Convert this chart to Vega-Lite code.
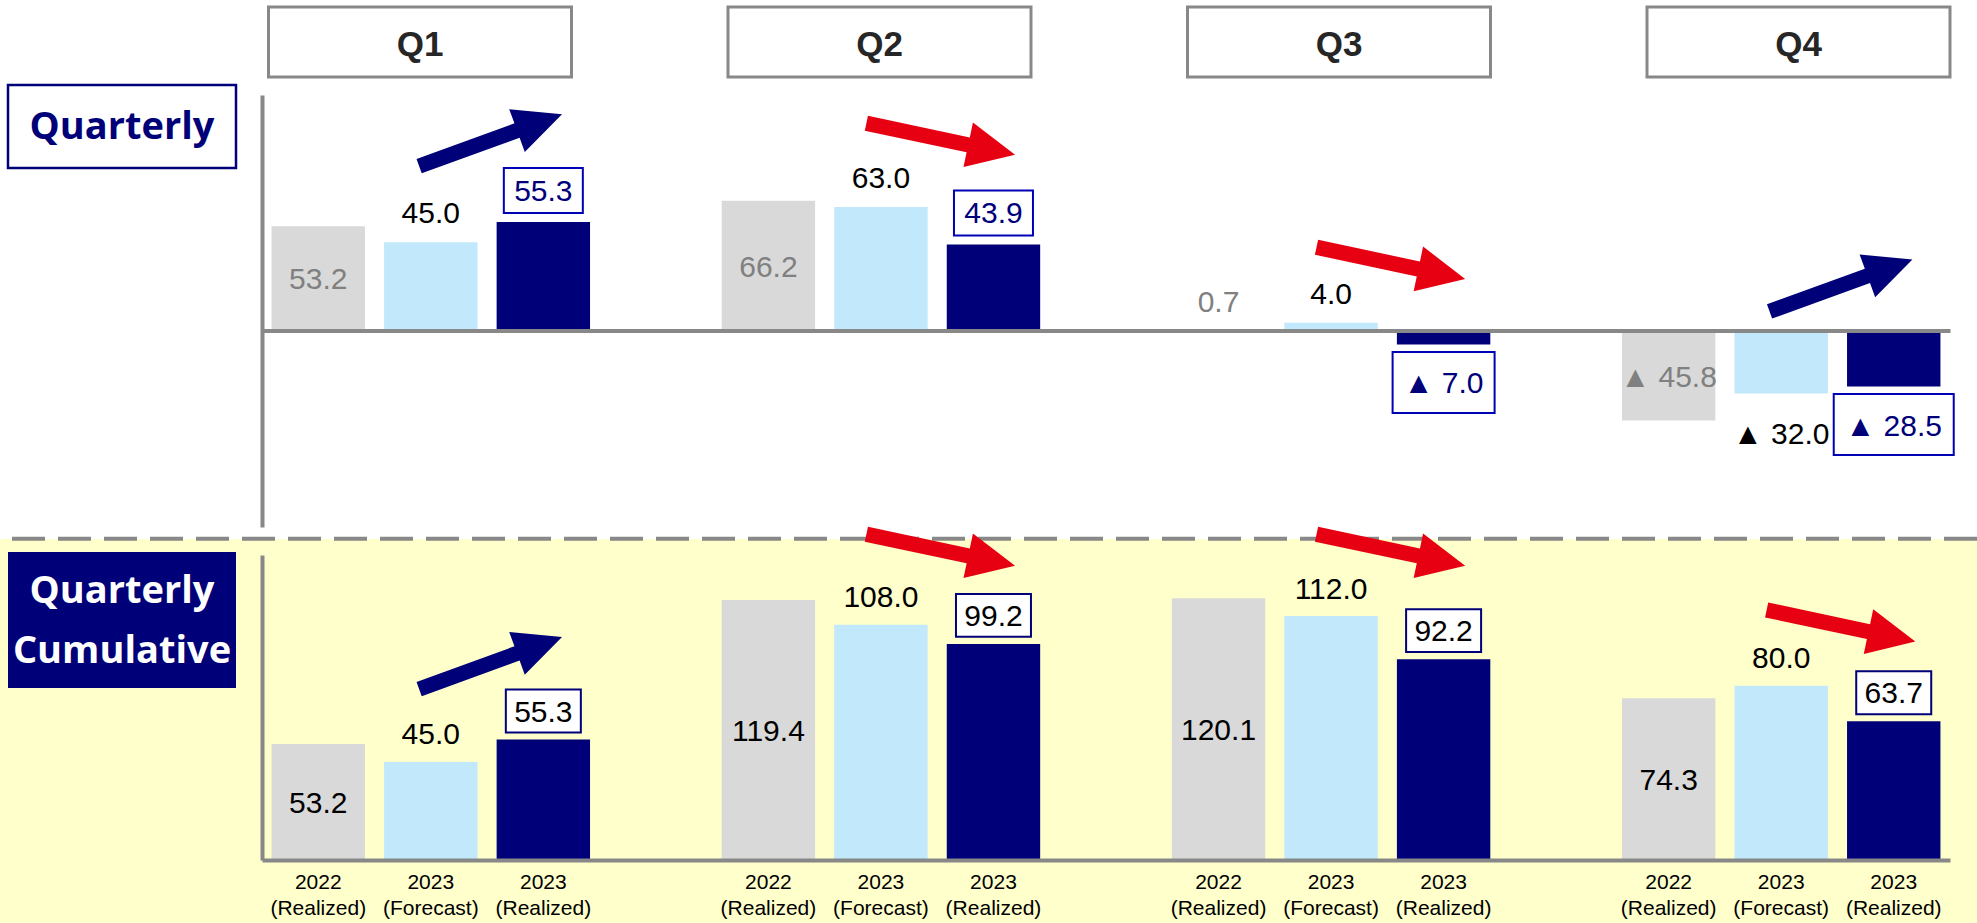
{
  "$schema": "https://vega.github.io/schema/vega-lite/v6.json",
  "width": 1977,
  "height": 923,
  "autosize": {"type": "none"},
  "padding": 0,
  "background": "white",
  "config": {"view": {"stroke": null}, "font": "Liberation Sans"},
  "datasets": {
    "bars": [
      {"panel": "Quarterly", "quarter": "Q1", "series": "2022 (Realized)", "slot": "Q1|2022|(Realized)", "value": 53.2, "label": "53.2"},
      {"panel": "Quarterly", "quarter": "Q1", "series": "2023 (Forecast)", "slot": "Q1|2023|(Forecast)", "value": 45.0, "label": "45.0"},
      {"panel": "Quarterly", "quarter": "Q1", "series": "2023 (Realized)", "slot": "Q1|2023|(Realized)", "value": 55.3, "label": "55.3"},
      {"panel": "Quarterly", "quarter": "Q2", "series": "2022 (Realized)", "slot": "Q2|2022|(Realized)", "value": 66.2, "label": "66.2"},
      {"panel": "Quarterly", "quarter": "Q2", "series": "2023 (Forecast)", "slot": "Q2|2023|(Forecast)", "value": 63.0, "label": "63.0"},
      {"panel": "Quarterly", "quarter": "Q2", "series": "2023 (Realized)", "slot": "Q2|2023|(Realized)", "value": 43.9, "label": "43.9"},
      {"panel": "Quarterly", "quarter": "Q3", "series": "2022 (Realized)", "slot": "Q3|2022|(Realized)", "value": 0.7, "label": "0.7"},
      {"panel": "Quarterly", "quarter": "Q3", "series": "2023 (Forecast)", "slot": "Q3|2023|(Forecast)", "value": 4.0, "label": "4.0"},
      {"panel": "Quarterly", "quarter": "Q3", "series": "2023 (Realized)", "slot": "Q3|2023|(Realized)", "value": -7.0, "label": "▲ 7.0"},
      {"panel": "Quarterly", "quarter": "Q4", "series": "2022 (Realized)", "slot": "Q4|2022|(Realized)", "value": -45.8, "label": "▲ 45.8"},
      {"panel": "Quarterly", "quarter": "Q4", "series": "2023 (Forecast)", "slot": "Q4|2023|(Forecast)", "value": -32.0, "label": "▲ 32.0"},
      {"panel": "Quarterly", "quarter": "Q4", "series": "2023 (Realized)", "slot": "Q4|2023|(Realized)", "value": -28.5, "label": "▲ 28.5"},
      {"panel": "Cumulative", "quarter": "Q1", "series": "2022 (Realized)", "slot": "Q1|2022|(Realized)", "value": 53.2, "label": "53.2"},
      {"panel": "Cumulative", "quarter": "Q1", "series": "2023 (Forecast)", "slot": "Q1|2023|(Forecast)", "value": 45.0, "label": "45.0"},
      {"panel": "Cumulative", "quarter": "Q1", "series": "2023 (Realized)", "slot": "Q1|2023|(Realized)", "value": 55.3, "label": "55.3"},
      {"panel": "Cumulative", "quarter": "Q2", "series": "2022 (Realized)", "slot": "Q2|2022|(Realized)", "value": 119.4, "label": "119.4"},
      {"panel": "Cumulative", "quarter": "Q2", "series": "2023 (Forecast)", "slot": "Q2|2023|(Forecast)", "value": 108.0, "label": "108.0"},
      {"panel": "Cumulative", "quarter": "Q2", "series": "2023 (Realized)", "slot": "Q2|2023|(Realized)", "value": 99.2, "label": "99.2"},
      {"panel": "Cumulative", "quarter": "Q3", "series": "2022 (Realized)", "slot": "Q3|2022|(Realized)", "value": 120.1, "label": "120.1"},
      {"panel": "Cumulative", "quarter": "Q3", "series": "2023 (Forecast)", "slot": "Q3|2023|(Forecast)", "value": 112.0, "label": "112.0"},
      {"panel": "Cumulative", "quarter": "Q3", "series": "2023 (Realized)", "slot": "Q3|2023|(Realized)", "value": 92.2, "label": "92.2"},
      {"panel": "Cumulative", "quarter": "Q4", "series": "2022 (Realized)", "slot": "Q4|2022|(Realized)", "value": 74.3, "label": "74.3"},
      {"panel": "Cumulative", "quarter": "Q4", "series": "2023 (Forecast)", "slot": "Q4|2023|(Forecast)", "value": 80.0, "label": "80.0"},
      {"panel": "Cumulative", "quarter": "Q4", "series": "2023 (Realized)", "slot": "Q4|2023|(Realized)", "value": 63.7, "label": "63.7"}
    ],
    "arrows": [
      {"panel": "Quarterly", "quarter": "Q1", "trend": "up", "slot": "Q1|2023|(Forecast)", "level": 97.0},
      {"panel": "Quarterly", "quarter": "Q2", "trend": "down", "slot": "Q2|2023|(Forecast)", "level": 97.6},
      {"panel": "Quarterly", "quarter": "Q3", "trend": "down", "slot": "Q3|2023|(Forecast)", "level": 34.4},
      {"panel": "Quarterly", "quarter": "Q4", "trend": "up", "slot": "Q4|2023|(Forecast)", "level": 23.0},
      {"panel": "Cumulative", "quarter": "Q1", "trend": "up", "slot": "Q1|2023|(Forecast)", "level": 90.4},
      {"panel": "Cumulative", "quarter": "Q2", "trend": "down", "slot": "Q2|2023|(Forecast)", "level": 142.3},
      {"panel": "Cumulative", "quarter": "Q3", "trend": "down", "slot": "Q3|2023|(Forecast)", "level": 142.3},
      {"panel": "Cumulative", "quarter": "Q4", "trend": "down", "slot": "Q4|2023|(Forecast)", "level": 107.5}
    ],
    "quarters": [{"quarter": "Q1"}, {"quarter": "Q2"}, {"quarter": "Q3"}, {"quarter": "Q4"}],
    "panels": [
      {"panel": "Quarterly", "title": "Quarterly"},
      {"panel": "Cumulative", "title": "Quarterly\nCumulative"}
    ]
  },
  "layer": [
    {
      "layer": [
        {
          "layer": [
            {
              "data": {"name": "bars"},
              "transform": [{"filter": "datum.panel == 'Quarterly'"}],
              "mark": {"type": "bar"},
              "encoding": {
                "x": {"field": "slot", "type": "nominal", "scale": {"domain": ["Q1|2022|(Realized)","Q1|2023|(Forecast)","Q1|2023|(Realized)","gap1","Q2|2022|(Realized)","Q2|2023|(Forecast)","Q2|2023|(Realized)","gap2","Q3|2022|(Realized)","Q3|2023|(Forecast)","Q3|2023|(Realized)","gap3","Q4|2022|(Realized)","Q4|2023|(Forecast)","Q4|2023|(Realized)"], "range": [262, 1950], "paddingInner": 0.17, "paddingOuter": 0.085}, "axis": {"orient": "top", "offset": -330.6, "labels": false, "ticks": false, "grid": false, "domain": true, "domainColor": "#888888", "domainWidth": 4, "title": null, "zindex": 1}},
                "y": {"field": "value", "type": "quantitative", "scale": {"domain": [-100, 120], "range": [527, 95], "nice": false, "zero": false}, "axis": {"orient": "left", "offset": -262, "labels": false, "ticks": false, "grid": false, "domain": true, "domainColor": "#888888", "domainWidth": 4, "title": null, "zindex": 1}},
                "color": {"field": "series", "type": "nominal", "scale": {"domain": ["2022 (Realized)", "2023 (Forecast)", "2023 (Realized)"], "range": ["#D9D9D9", "#C1E8FB", "#000078"]}, "legend": null}
              }
            },
            {
              "data": {"name": "bars"},
              "transform": [{"filter": "datum.panel == 'Quarterly' && datum.series == '2022 (Realized)' && abs(datum.value) >= 10"}],
              "mark": {"type": "text", "font": "Liberation Sans", "fontSize": 30, "color": "#808080", "baseline": "middle", "dy": 2},
              "encoding": {
                "x": {"field": "slot", "type": "nominal", "scale": {"domain": ["Q1|2022|(Realized)","Q1|2023|(Forecast)","Q1|2023|(Realized)","gap1","Q2|2022|(Realized)","Q2|2023|(Forecast)","Q2|2023|(Realized)","gap2","Q3|2022|(Realized)","Q3|2023|(Forecast)","Q3|2023|(Realized)","gap3","Q4|2022|(Realized)","Q4|2023|(Forecast)","Q4|2023|(Realized)"], "range": [262, 1950], "paddingInner": 0.17, "paddingOuter": 0.085}, "axis": {"orient": "top", "offset": -330.6, "labels": false, "ticks": false, "grid": false, "domain": true, "domainColor": "#888888", "domainWidth": 4, "title": null, "zindex": 1}},
                "y": {"field": "value", "type": "quantitative", "stack": "zero", "bandPosition": 0.5, "scale": {"domain": [-100, 120], "range": [527, 95], "nice": false, "zero": false}, "axis": {"orient": "left", "offset": -262, "labels": false, "ticks": false, "grid": false, "domain": true, "domainColor": "#888888", "domainWidth": 4, "title": null, "zindex": 1}},
                "text": {"field": "label", "type": "nominal"}
              }
            },
            {
              "data": {"name": "bars"},
              "transform": [{"filter": "datum.panel == 'Quarterly' && datum.series == '2022 (Realized)' && abs(datum.value) < 10"}],
              "mark": {"type": "text", "font": "Liberation Sans", "fontSize": 30, "color": "#808080", "baseline": "middle", "dy": -26.5},
              "encoding": {
                "x": {"field": "slot", "type": "nominal", "scale": {"domain": ["Q1|2022|(Realized)","Q1|2023|(Forecast)","Q1|2023|(Realized)","gap1","Q2|2022|(Realized)","Q2|2023|(Forecast)","Q2|2023|(Realized)","gap2","Q3|2022|(Realized)","Q3|2023|(Forecast)","Q3|2023|(Realized)","gap3","Q4|2022|(Realized)","Q4|2023|(Forecast)","Q4|2023|(Realized)"], "range": [262, 1950], "paddingInner": 0.17, "paddingOuter": 0.085}, "axis": {"orient": "top", "offset": -330.6, "labels": false, "ticks": false, "grid": false, "domain": true, "domainColor": "#888888", "domainWidth": 4, "title": null, "zindex": 1}},
                "y": {"field": "value", "type": "quantitative", "scale": {"domain": [-100, 120], "range": [527, 95], "nice": false, "zero": false}, "axis": {"orient": "left", "offset": -262, "labels": false, "ticks": false, "grid": false, "domain": true, "domainColor": "#888888", "domainWidth": 4, "title": null, "zindex": 1}},
                "text": {"field": "label", "type": "nominal"}
              }
            },
            {
              "data": {"name": "bars"},
              "transform": [{"filter": "datum.panel == 'Quarterly' && datum.series == '2023 (Forecast)' && datum.value >= 0"}],
              "mark": {"type": "text", "font": "Liberation Sans", "fontSize": 30, "color": "#000000", "baseline": "middle", "dy": -28},
              "encoding": {
                "x": {"field": "slot", "type": "nominal", "scale": {"domain": ["Q1|2022|(Realized)","Q1|2023|(Forecast)","Q1|2023|(Realized)","gap1","Q2|2022|(Realized)","Q2|2023|(Forecast)","Q2|2023|(Realized)","gap2","Q3|2022|(Realized)","Q3|2023|(Forecast)","Q3|2023|(Realized)","gap3","Q4|2022|(Realized)","Q4|2023|(Forecast)","Q4|2023|(Realized)"], "range": [262, 1950], "paddingInner": 0.17, "paddingOuter": 0.085}, "axis": {"orient": "top", "offset": -330.6, "labels": false, "ticks": false, "grid": false, "domain": true, "domainColor": "#888888", "domainWidth": 4, "title": null, "zindex": 1}},
                "y": {"field": "value", "type": "quantitative", "scale": {"domain": [-100, 120], "range": [527, 95], "nice": false, "zero": false}, "axis": {"orient": "left", "offset": -262, "labels": false, "ticks": false, "grid": false, "domain": true, "domainColor": "#888888", "domainWidth": 4, "title": null, "zindex": 1}},
                "text": {"field": "label", "type": "nominal"}
              }
            },
            {
              "data": {"name": "bars"},
              "transform": [{"filter": "datum.panel == 'Quarterly' && datum.series == '2023 (Forecast)' && datum.value < 0"}],
              "mark": {"type": "text", "font": "Liberation Sans", "fontSize": 30, "color": "#000000", "baseline": "middle", "dy": 42},
              "encoding": {
                "x": {"field": "slot", "type": "nominal", "scale": {"domain": ["Q1|2022|(Realized)","Q1|2023|(Forecast)","Q1|2023|(Realized)","gap1","Q2|2022|(Realized)","Q2|2023|(Forecast)","Q2|2023|(Realized)","gap2","Q3|2022|(Realized)","Q3|2023|(Forecast)","Q3|2023|(Realized)","gap3","Q4|2022|(Realized)","Q4|2023|(Forecast)","Q4|2023|(Realized)"], "range": [262, 1950], "paddingInner": 0.17, "paddingOuter": 0.085}, "axis": {"orient": "top", "offset": -330.6, "labels": false, "ticks": false, "grid": false, "domain": true, "domainColor": "#888888", "domainWidth": 4, "title": null, "zindex": 1}},
                "y": {"field": "value", "type": "quantitative", "scale": {"domain": [-100, 120], "range": [527, 95], "nice": false, "zero": false}, "axis": {"orient": "left", "offset": -262, "labels": false, "ticks": false, "grid": false, "domain": true, "domainColor": "#888888", "domainWidth": 4, "title": null, "zindex": 1}},
                "text": {"field": "label", "type": "nominal"}
              }
            },
            {
              "data": {"name": "bars"},
              "transform": [{"filter": "datum.panel == 'Quarterly' && datum.series == '2023 (Realized)' && datum.value >= 0"}],
              "mark": {"type": "point", "shape": "M-1,-0.57H1V0.57H-1Z", "size": 6241, "fill": "#FFFFFF", "stroke": "#0000B4", "strokeWidth": 2, "opacity": 1, "yOffset": -31.5},
              "encoding": {
                "x": {"field": "slot", "type": "nominal", "scale": {"domain": ["Q1|2022|(Realized)","Q1|2023|(Forecast)","Q1|2023|(Realized)","gap1","Q2|2022|(Realized)","Q2|2023|(Forecast)","Q2|2023|(Realized)","gap2","Q3|2022|(Realized)","Q3|2023|(Forecast)","Q3|2023|(Realized)","gap3","Q4|2022|(Realized)","Q4|2023|(Forecast)","Q4|2023|(Realized)"], "range": [262, 1950], "paddingInner": 0.17, "paddingOuter": 0.085}, "axis": {"orient": "top", "offset": -330.6, "labels": false, "ticks": false, "grid": false, "domain": true, "domainColor": "#888888", "domainWidth": 4, "title": null, "zindex": 1}},
                "y": {"field": "value", "type": "quantitative", "scale": {"domain": [-100, 120], "range": [527, 95], "nice": false, "zero": false}, "axis": {"orient": "left", "offset": -262, "labels": false, "ticks": false, "grid": false, "domain": true, "domainColor": "#888888", "domainWidth": 4, "title": null, "zindex": 1}}
              }
            },
            {
              "data": {"name": "bars"},
              "transform": [{"filter": "datum.panel == 'Quarterly' && datum.series == '2023 (Realized)' && datum.value < 0 && datum.value > -10"}],
              "mark": {"type": "point", "shape": "M-1,-0.598H1V0.598H-1Z", "size": 10404, "fill": "#FFFFFF", "stroke": "#0000B4", "strokeWidth": 2, "opacity": 1, "yOffset": 38},
              "encoding": {
                "x": {"field": "slot", "type": "nominal", "scale": {"domain": ["Q1|2022|(Realized)","Q1|2023|(Forecast)","Q1|2023|(Realized)","gap1","Q2|2022|(Realized)","Q2|2023|(Forecast)","Q2|2023|(Realized)","gap2","Q3|2022|(Realized)","Q3|2023|(Forecast)","Q3|2023|(Realized)","gap3","Q4|2022|(Realized)","Q4|2023|(Forecast)","Q4|2023|(Realized)"], "range": [262, 1950], "paddingInner": 0.17, "paddingOuter": 0.085}, "axis": {"orient": "top", "offset": -330.6, "labels": false, "ticks": false, "grid": false, "domain": true, "domainColor": "#888888", "domainWidth": 4, "title": null, "zindex": 1}},
                "y": {"field": "value", "type": "quantitative", "scale": {"domain": [-100, 120], "range": [527, 95], "nice": false, "zero": false}, "axis": {"orient": "left", "offset": -262, "labels": false, "ticks": false, "grid": false, "domain": true, "domainColor": "#888888", "domainWidth": 4, "title": null, "zindex": 1}}
              }
            },
            {
              "data": {"name": "bars"},
              "transform": [{"filter": "datum.panel == 'Quarterly' && datum.series == '2023 (Realized)' && datum.value <= -10"}],
              "mark": {"type": "point", "shape": "M-1,-0.508H1V0.508H-1Z", "size": 14400, "fill": "#FFFFFF", "stroke": "#0000B4", "strokeWidth": 2, "opacity": 1, "yOffset": 38},
              "encoding": {
                "x": {"field": "slot", "type": "nominal", "scale": {"domain": ["Q1|2022|(Realized)","Q1|2023|(Forecast)","Q1|2023|(Realized)","gap1","Q2|2022|(Realized)","Q2|2023|(Forecast)","Q2|2023|(Realized)","gap2","Q3|2022|(Realized)","Q3|2023|(Forecast)","Q3|2023|(Realized)","gap3","Q4|2022|(Realized)","Q4|2023|(Forecast)","Q4|2023|(Realized)"], "range": [262, 1950], "paddingInner": 0.17, "paddingOuter": 0.085}, "axis": {"orient": "top", "offset": -330.6, "labels": false, "ticks": false, "grid": false, "domain": true, "domainColor": "#888888", "domainWidth": 4, "title": null, "zindex": 1}},
                "y": {"field": "value", "type": "quantitative", "scale": {"domain": [-100, 120], "range": [527, 95], "nice": false, "zero": false}, "axis": {"orient": "left", "offset": -262, "labels": false, "ticks": false, "grid": false, "domain": true, "domainColor": "#888888", "domainWidth": 4, "title": null, "zindex": 1}}
              }
            },
            {
              "data": {"name": "bars"},
              "transform": [{"filter": "datum.panel == 'Quarterly' && datum.series == '2023 (Realized)' && datum.value >= 0"}],
              "mark": {"type": "text", "font": "Liberation Sans", "fontSize": 30, "color": "#00007A", "baseline": "middle", "dy": -30},
              "encoding": {
                "x": {"field": "slot", "type": "nominal", "scale": {"domain": ["Q1|2022|(Realized)","Q1|2023|(Forecast)","Q1|2023|(Realized)","gap1","Q2|2022|(Realized)","Q2|2023|(Forecast)","Q2|2023|(Realized)","gap2","Q3|2022|(Realized)","Q3|2023|(Forecast)","Q3|2023|(Realized)","gap3","Q4|2022|(Realized)","Q4|2023|(Forecast)","Q4|2023|(Realized)"], "range": [262, 1950], "paddingInner": 0.17, "paddingOuter": 0.085}, "axis": {"orient": "top", "offset": -330.6, "labels": false, "ticks": false, "grid": false, "domain": true, "domainColor": "#888888", "domainWidth": 4, "title": null, "zindex": 1}},
                "y": {"field": "value", "type": "quantitative", "scale": {"domain": [-100, 120], "range": [527, 95], "nice": false, "zero": false}, "axis": {"orient": "left", "offset": -262, "labels": false, "ticks": false, "grid": false, "domain": true, "domainColor": "#888888", "domainWidth": 4, "title": null, "zindex": 1}},
                "text": {"field": "label", "type": "nominal"}
              }
            },
            {
              "data": {"name": "bars"},
              "transform": [{"filter": "datum.panel == 'Quarterly' && datum.series == '2023 (Realized)' && datum.value < 0"}],
              "mark": {"type": "text", "font": "Liberation Sans", "fontSize": 30, "color": "#00007A", "baseline": "middle", "dy": 40},
              "encoding": {
                "x": {"field": "slot", "type": "nominal", "scale": {"domain": ["Q1|2022|(Realized)","Q1|2023|(Forecast)","Q1|2023|(Realized)","gap1","Q2|2022|(Realized)","Q2|2023|(Forecast)","Q2|2023|(Realized)","gap2","Q3|2022|(Realized)","Q3|2023|(Forecast)","Q3|2023|(Realized)","gap3","Q4|2022|(Realized)","Q4|2023|(Forecast)","Q4|2023|(Realized)"], "range": [262, 1950], "paddingInner": 0.17, "paddingOuter": 0.085}, "axis": {"orient": "top", "offset": -330.6, "labels": false, "ticks": false, "grid": false, "domain": true, "domainColor": "#888888", "domainWidth": 4, "title": null, "zindex": 1}},
                "y": {"field": "value", "type": "quantitative", "scale": {"domain": [-100, 120], "range": [527, 95], "nice": false, "zero": false}, "axis": {"orient": "left", "offset": -262, "labels": false, "ticks": false, "grid": false, "domain": true, "domainColor": "#888888", "domainWidth": 4, "title": null, "zindex": 1}},
                "text": {"field": "label", "type": "nominal"}
              }
            },
            {
              "data": {"name": "arrows"},
              "transform": [{"filter": "datum.panel == 'Quarterly'"}],
              "mark": {"type": "point", "filled": true, "size": 23104, "opacity": 1, "strokeWidth": 0},
              "encoding": {
                "x": {"field": "slot", "type": "nominal", "bandPosition": 1.14, "scale": {"domain": ["Q1|2022|(Realized)","Q1|2023|(Forecast)","Q1|2023|(Realized)","gap1","Q2|2022|(Realized)","Q2|2023|(Forecast)","Q2|2023|(Realized)","gap2","Q3|2022|(Realized)","Q3|2023|(Forecast)","Q3|2023|(Realized)","gap3","Q4|2022|(Realized)","Q4|2023|(Forecast)","Q4|2023|(Realized)"], "range": [262, 1950], "paddingInner": 0.17, "paddingOuter": 0.085}, "axis": {"orient": "top", "offset": -330.6, "labels": false, "ticks": false, "grid": false, "domain": true, "domainColor": "#888888", "domainWidth": 4, "title": null, "zindex": 1}},
                "y": {"field": "level", "type": "quantitative", "scale": {"domain": [-100, 120], "range": [527, 95], "nice": false, "zero": false}, "axis": {"orient": "left", "offset": -262, "labels": false, "ticks": false, "grid": false, "domain": true, "domainColor": "#888888", "domainWidth": 4, "title": null, "zindex": 1}},
                "fill": {"field": "trend", "type": "nominal", "scale": {"domain": ["up", "down"], "range": ["#000078", "#E60012"]}, "legend": null},
                "shape": {"field": "trend", "type": "nominal", "scale": {"domain": ["up", "down"], "range": ["M-0.974,0.248L0.314,-0.221L0.245,-0.408L0.94,-0.342L0.45,0.155L0.382,-0.033L-0.906,0.436Z", "M-0.957,-0.306L0.383,-0.021L0.424,-0.217L0.978,0.208L0.3,0.37L0.341,0.175L-0.999,-0.11Z"]}, "legend": null}
              }
            }
          ]
        },
        {
          "layer": [
            {
              "data": {"name": "quarters"},
              "transform": [{"filter": "datum.quarter == 'Q1'"}],
              "mark": {"type": "rect", "color": "#FFFFCC"},
              "encoding": {
                "y": {"datum": 147.3, "type": "quantitative", "scale": {"domain": [0, 140], "range": [860, 555], "nice": false, "zero": false}, "axis": {"orient": "left", "offset": -262, "labels": false, "ticks": false, "grid": false, "domain": true, "domainColor": "#888888", "domainWidth": 4, "title": null, "zindex": 1}},
                "y2": {"datum": -30}
              }
            },
            {
              "data": {"name": "quarters"},
              "transform": [{"filter": "datum.quarter == 'Q1'"}],
              "mark": {"type": "rule", "color": "#888888", "strokeWidth": 4, "strokeDash": [33, 13]},
              "encoding": {
                "y": {"datum": 147.5, "type": "quantitative", "scale": {"domain": [0, 140], "range": [860, 555], "nice": false, "zero": false}, "axis": {"orient": "left", "offset": -262, "labels": false, "ticks": false, "grid": false, "domain": true, "domainColor": "#888888", "domainWidth": 4, "title": null, "zindex": 1}}
              }
            },
            {
              "data": {"name": "bars"},
              "transform": [{"filter": "datum.panel == 'Cumulative'"}],
              "mark": {"type": "bar"},
              "encoding": {
                "x": {"field": "slot", "type": "nominal", "scale": {"domain": ["Q1|2022|(Realized)","Q1|2023|(Forecast)","Q1|2023|(Realized)","gap1","Q2|2022|(Realized)","Q2|2023|(Forecast)","Q2|2023|(Realized)","gap2","Q3|2022|(Realized)","Q3|2023|(Forecast)","Q3|2023|(Realized)","gap3","Q4|2022|(Realized)","Q4|2023|(Forecast)","Q4|2023|(Realized)"], "range": [262, 1950], "paddingInner": 0.17, "paddingOuter": 0.085}, "axis": {"orient": "bottom", "offset": -63, "ticks": false, "grid": false, "domain": true, "domainColor": "#888888", "domainWidth": 4, "title": null, "zindex": 1, "labelExpr": "indexof(datum.value, '|') < 0 ? '' : slice(split(datum.value, '|'), 1)", "labelFont": "Liberation Sans", "labelFontSize": 21, "labelColor": "#000000", "labelLineHeight": 26, "labelPadding": 11, "labelBaseline": "top", "labelAngle": 0, "labelOverlap": false, "labelBound": false, "labelFlush": false, "labelLimit": 0}},
                "y": {"field": "value", "type": "quantitative", "scale": {"domain": [0, 140], "range": [860, 555], "nice": false, "zero": false}, "axis": {"orient": "left", "offset": -262, "labels": false, "ticks": false, "grid": false, "domain": true, "domainColor": "#888888", "domainWidth": 4, "title": null, "zindex": 1}},
                "color": {"field": "series", "type": "nominal", "scale": {"domain": ["2022 (Realized)", "2023 (Forecast)", "2023 (Realized)"], "range": ["#D9D9D9", "#C1E8FB", "#000078"]}, "legend": null}
              }
            },
            {
              "data": {"name": "bars"},
              "transform": [{"filter": "datum.panel == 'Cumulative' && datum.series == '2022 (Realized)'"}],
              "mark": {"type": "text", "font": "Liberation Sans", "fontSize": 30, "color": "#000000", "baseline": "middle", "dy": 2},
              "encoding": {
                "x": {"field": "slot", "type": "nominal", "scale": {"domain": ["Q1|2022|(Realized)","Q1|2023|(Forecast)","Q1|2023|(Realized)","gap1","Q2|2022|(Realized)","Q2|2023|(Forecast)","Q2|2023|(Realized)","gap2","Q3|2022|(Realized)","Q3|2023|(Forecast)","Q3|2023|(Realized)","gap3","Q4|2022|(Realized)","Q4|2023|(Forecast)","Q4|2023|(Realized)"], "range": [262, 1950], "paddingInner": 0.17, "paddingOuter": 0.085}, "axis": {"orient": "bottom", "offset": -63, "ticks": false, "grid": false, "domain": true, "domainColor": "#888888", "domainWidth": 4, "title": null, "zindex": 1, "labelExpr": "indexof(datum.value, '|') < 0 ? '' : slice(split(datum.value, '|'), 1)", "labelFont": "Liberation Sans", "labelFontSize": 21, "labelColor": "#000000", "labelLineHeight": 26, "labelPadding": 11, "labelBaseline": "top", "labelAngle": 0, "labelOverlap": false, "labelBound": false, "labelFlush": false, "labelLimit": 0}},
                "y": {"field": "value", "type": "quantitative", "stack": "zero", "bandPosition": 0.5, "scale": {"domain": [0, 140], "range": [860, 555], "nice": false, "zero": false}, "axis": {"orient": "left", "offset": -262, "labels": false, "ticks": false, "grid": false, "domain": true, "domainColor": "#888888", "domainWidth": 4, "title": null, "zindex": 1}},
                "text": {"field": "label", "type": "nominal"}
              }
            },
            {
              "data": {"name": "bars"},
              "transform": [{"filter": "datum.panel == 'Cumulative' && datum.series == '2023 (Forecast)'"}],
              "mark": {"type": "text", "font": "Liberation Sans", "fontSize": 30, "color": "#000000", "baseline": "middle", "dy": -26.5},
              "encoding": {
                "x": {"field": "slot", "type": "nominal", "scale": {"domain": ["Q1|2022|(Realized)","Q1|2023|(Forecast)","Q1|2023|(Realized)","gap1","Q2|2022|(Realized)","Q2|2023|(Forecast)","Q2|2023|(Realized)","gap2","Q3|2022|(Realized)","Q3|2023|(Forecast)","Q3|2023|(Realized)","gap3","Q4|2022|(Realized)","Q4|2023|(Forecast)","Q4|2023|(Realized)"], "range": [262, 1950], "paddingInner": 0.17, "paddingOuter": 0.085}, "axis": {"orient": "bottom", "offset": -63, "ticks": false, "grid": false, "domain": true, "domainColor": "#888888", "domainWidth": 4, "title": null, "zindex": 1, "labelExpr": "indexof(datum.value, '|') < 0 ? '' : slice(split(datum.value, '|'), 1)", "labelFont": "Liberation Sans", "labelFontSize": 21, "labelColor": "#000000", "labelLineHeight": 26, "labelPadding": 11, "labelBaseline": "top", "labelAngle": 0, "labelOverlap": false, "labelBound": false, "labelFlush": false, "labelLimit": 0}},
                "y": {"field": "value", "type": "quantitative", "scale": {"domain": [0, 140], "range": [860, 555], "nice": false, "zero": false}, "axis": {"orient": "left", "offset": -262, "labels": false, "ticks": false, "grid": false, "domain": true, "domainColor": "#888888", "domainWidth": 4, "title": null, "zindex": 1}},
                "text": {"field": "label", "type": "nominal"}
              }
            },
            {
              "data": {"name": "bars"},
              "transform": [{"filter": "datum.panel == 'Cumulative' && datum.series == '2023 (Realized)'"}],
              "mark": {"type": "point", "shape": "M-1,-0.573H1V0.573H-1Z", "size": 5625, "fill": "#FFFFFF", "stroke": "#000078", "strokeWidth": 2, "opacity": 1, "yOffset": -28.5},
              "encoding": {
                "x": {"field": "slot", "type": "nominal", "scale": {"domain": ["Q1|2022|(Realized)","Q1|2023|(Forecast)","Q1|2023|(Realized)","gap1","Q2|2022|(Realized)","Q2|2023|(Forecast)","Q2|2023|(Realized)","gap2","Q3|2022|(Realized)","Q3|2023|(Forecast)","Q3|2023|(Realized)","gap3","Q4|2022|(Realized)","Q4|2023|(Forecast)","Q4|2023|(Realized)"], "range": [262, 1950], "paddingInner": 0.17, "paddingOuter": 0.085}, "axis": {"orient": "bottom", "offset": -63, "ticks": false, "grid": false, "domain": true, "domainColor": "#888888", "domainWidth": 4, "title": null, "zindex": 1, "labelExpr": "indexof(datum.value, '|') < 0 ? '' : slice(split(datum.value, '|'), 1)", "labelFont": "Liberation Sans", "labelFontSize": 21, "labelColor": "#000000", "labelLineHeight": 26, "labelPadding": 11, "labelBaseline": "top", "labelAngle": 0, "labelOverlap": false, "labelBound": false, "labelFlush": false, "labelLimit": 0}},
                "y": {"field": "value", "type": "quantitative", "scale": {"domain": [0, 140], "range": [860, 555], "nice": false, "zero": false}, "axis": {"orient": "left", "offset": -262, "labels": false, "ticks": false, "grid": false, "domain": true, "domainColor": "#888888", "domainWidth": 4, "title": null, "zindex": 1}}
              }
            },
            {
              "data": {"name": "bars"},
              "transform": [{"filter": "datum.panel == 'Cumulative' && datum.series == '2023 (Realized)'"}],
              "mark": {"type": "text", "font": "Liberation Sans", "fontSize": 30, "color": "#000000", "baseline": "middle", "dy": -27},
              "encoding": {
                "x": {"field": "slot", "type": "nominal", "scale": {"domain": ["Q1|2022|(Realized)","Q1|2023|(Forecast)","Q1|2023|(Realized)","gap1","Q2|2022|(Realized)","Q2|2023|(Forecast)","Q2|2023|(Realized)","gap2","Q3|2022|(Realized)","Q3|2023|(Forecast)","Q3|2023|(Realized)","gap3","Q4|2022|(Realized)","Q4|2023|(Forecast)","Q4|2023|(Realized)"], "range": [262, 1950], "paddingInner": 0.17, "paddingOuter": 0.085}, "axis": {"orient": "bottom", "offset": -63, "ticks": false, "grid": false, "domain": true, "domainColor": "#888888", "domainWidth": 4, "title": null, "zindex": 1, "labelExpr": "indexof(datum.value, '|') < 0 ? '' : slice(split(datum.value, '|'), 1)", "labelFont": "Liberation Sans", "labelFontSize": 21, "labelColor": "#000000", "labelLineHeight": 26, "labelPadding": 11, "labelBaseline": "top", "labelAngle": 0, "labelOverlap": false, "labelBound": false, "labelFlush": false, "labelLimit": 0}},
                "y": {"field": "value", "type": "quantitative", "scale": {"domain": [0, 140], "range": [860, 555], "nice": false, "zero": false}, "axis": {"orient": "left", "offset": -262, "labels": false, "ticks": false, "grid": false, "domain": true, "domainColor": "#888888", "domainWidth": 4, "title": null, "zindex": 1}},
                "text": {"field": "label", "type": "nominal"}
              }
            },
            {
              "data": {"name": "arrows"},
              "transform": [{"filter": "datum.panel == 'Cumulative'"}],
              "mark": {"type": "point", "filled": true, "size": 23104, "opacity": 1, "strokeWidth": 0},
              "encoding": {
                "x": {"field": "slot", "type": "nominal", "bandPosition": 1.14, "scale": {"domain": ["Q1|2022|(Realized)","Q1|2023|(Forecast)","Q1|2023|(Realized)","gap1","Q2|2022|(Realized)","Q2|2023|(Forecast)","Q2|2023|(Realized)","gap2","Q3|2022|(Realized)","Q3|2023|(Forecast)","Q3|2023|(Realized)","gap3","Q4|2022|(Realized)","Q4|2023|(Forecast)","Q4|2023|(Realized)"], "range": [262, 1950], "paddingInner": 0.17, "paddingOuter": 0.085}, "axis": {"orient": "bottom", "offset": -63, "ticks": false, "grid": false, "domain": true, "domainColor": "#888888", "domainWidth": 4, "title": null, "zindex": 1, "labelExpr": "indexof(datum.value, '|') < 0 ? '' : slice(split(datum.value, '|'), 1)", "labelFont": "Liberation Sans", "labelFontSize": 21, "labelColor": "#000000", "labelLineHeight": 26, "labelPadding": 11, "labelBaseline": "top", "labelAngle": 0, "labelOverlap": false, "labelBound": false, "labelFlush": false, "labelLimit": 0}},
                "y": {"field": "level", "type": "quantitative", "scale": {"domain": [0, 140], "range": [860, 555], "nice": false, "zero": false}, "axis": {"orient": "left", "offset": -262, "labels": false, "ticks": false, "grid": false, "domain": true, "domainColor": "#888888", "domainWidth": 4, "title": null, "zindex": 1}},
                "fill": {"field": "trend", "type": "nominal", "scale": {"domain": ["up", "down"], "range": ["#000078", "#E60012"]}, "legend": null},
                "shape": {"field": "trend", "type": "nominal", "scale": {"domain": ["up", "down"], "range": ["M-0.974,0.248L0.314,-0.221L0.245,-0.408L0.94,-0.342L0.45,0.155L0.382,-0.033L-0.906,0.436Z", "M-0.957,-0.306L0.383,-0.021L0.424,-0.217L0.978,0.208L0.3,0.37L0.341,0.175L-0.999,-0.11Z"]}, "legend": null}
              }
            }
          ]
        }
      ],
      "resolve": {"scale": {"y": "independent"}, "axis": {"x": "independent", "y": "independent"}}
    },
    {
      "layer": [
        {
          "data": {"name": "panels"},
          "transform": [{"filter": "datum.panel == 'Quarterly'"}],
          "layer": [
            {
              "mark": {"type": "rect", "fill": "#FFFFFF", "stroke": "#000078", "strokeWidth": 2.5},
              "encoding": {
                "x": {"datum": "lab", "type": "nominal", "scale": {"domain": ["lab"], "range": [8, 236], "paddingInner": 0, "paddingOuter": 0}, "axis": null},
                "y": {"field": "panel", "type": "nominal", "scale": {"domain": ["Quarterly"], "range": [85, 168], "paddingInner": 0, "paddingOuter": 0}, "axis": null}
              }
            },
            {
              "mark": {"type": "text", "font": "Open Sans", "fontWeight": "bold", "fontSize": 38, "color": "#000078", "baseline": "middle", "dy": 1},
              "encoding": {
                "x": {"datum": "lab", "type": "nominal", "scale": {"domain": ["lab"], "range": [8, 236], "paddingInner": 0, "paddingOuter": 0}, "axis": null},
                "y": {"field": "panel", "type": "nominal", "scale": {"domain": ["Quarterly"], "range": [85, 168], "paddingInner": 0, "paddingOuter": 0}, "axis": null},
                "text": {"field": "title", "type": "nominal"}
              }
            }
          ]
        },
        {
          "data": {"name": "panels"},
          "transform": [{"filter": "datum.panel == 'Cumulative'"}],
          "layer": [
            {
              "mark": {"type": "rect", "fill": "#000078"},
              "encoding": {
                "x": {"datum": "lab", "type": "nominal", "scale": {"domain": ["lab"], "range": [8, 236], "paddingInner": 0, "paddingOuter": 0}, "axis": null},
                "y": {"field": "panel", "type": "nominal", "scale": {"domain": ["Cumulative"], "range": [552, 688], "paddingInner": 0, "paddingOuter": 0}, "axis": null}
              }
            },
            {
              "mark": {"type": "text", "font": "Open Sans", "fontWeight": "bold", "fontSize": 38, "color": "#FFFFFF", "baseline": "middle", "lineBreak": "\n", "lineHeight": 60, "dy": -28},
              "encoding": {
                "x": {"datum": "lab", "type": "nominal", "scale": {"domain": ["lab"], "range": [8, 236], "paddingInner": 0, "paddingOuter": 0}, "axis": null},
                "y": {"field": "panel", "type": "nominal", "scale": {"domain": ["Cumulative"], "range": [552, 688], "paddingInner": 0, "paddingOuter": 0}, "axis": null},
                "text": {"field": "title", "type": "nominal"}
              }
            }
          ]
        }
      ],
      "resolve": {"scale": {"y": "independent"}}
    },
    {
      "data": {"name": "quarters"},
      "layer": [
        {
          "mark": {"type": "rect", "fill": "#FFFFFF", "stroke": "#888888", "strokeWidth": 3},
          "encoding": {
            "x": {"field": "quarter", "type": "nominal", "scale": {"domain": ["Q1", "Q2", "Q3", "Q4"], "range": [190.25, 2028.25], "paddingInner": 0.3406, "paddingOuter": 0.1703}, "axis": null},
            "y": {"datum": "header", "type": "nominal", "scale": {"domain": ["header"], "range": [7, 77], "paddingInner": 0, "paddingOuter": 0}, "axis": null}
          }
        },
        {
          "mark": {"type": "text", "font": "Liberation Sans", "fontWeight": "bold", "fontSize": 35, "color": "#262626", "baseline": "middle", "dy": 3},
          "encoding": {
            "x": {"field": "quarter", "type": "nominal", "scale": {"domain": ["Q1", "Q2", "Q3", "Q4"], "range": [190.25, 2028.25], "paddingInner": 0.3406, "paddingOuter": 0.1703}, "axis": null},
            "y": {"datum": "header", "type": "nominal", "scale": {"domain": ["header"], "range": [7, 77], "paddingInner": 0, "paddingOuter": 0}, "axis": null},
            "text": {"field": "quarter", "type": "nominal"}
          }
        }
      ]
    }
  ],
  "resolve": {"scale": {"x": "independent", "y": "independent"}}
}
